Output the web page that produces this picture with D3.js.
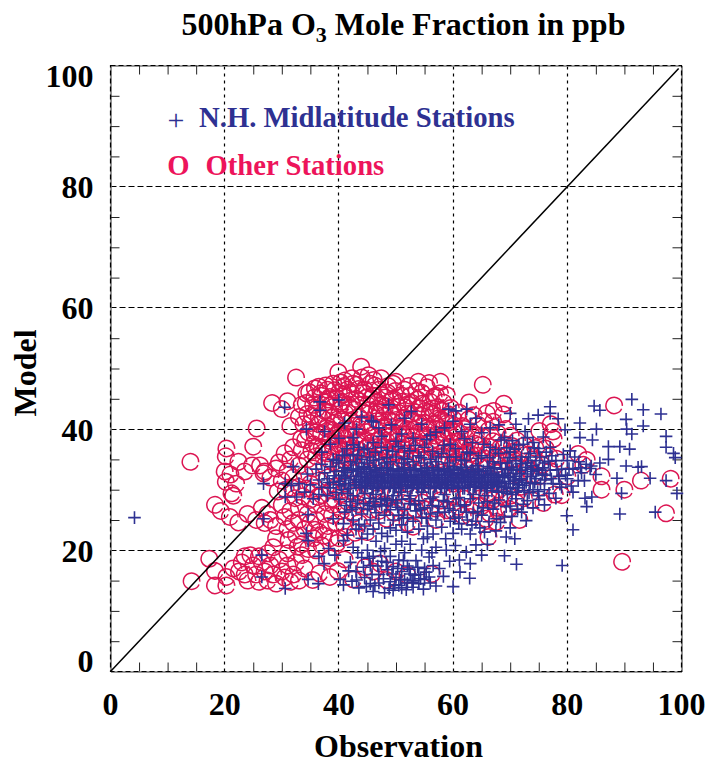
<!DOCTYPE html>
<html><head><meta charset="utf-8">
<script src="https://cdn.jsdelivr.net/npm/d3@7"></script>
<style>html,body{margin:0;background:#fff}svg{display:block}text{font-family:"Liberation Serif",serif;font-weight:bold}</style>
</head><body><div id="chart"></div>
<script>
const titleParts = ["500hPa O", "3", " Mole Fraction in ppb"];
const xLabel = "Observation", yLabel = "Model";
const legendLabels = ["N.H. Midlatitude Stations", "Other Stations"];
const majorTicks = [0,20,40,60,80,100];
const gridTicks = [20,40,60,80];
const minorTicks = [5,10,15,25,30,35,45,50,55,65,70,75,85,90,95];
const onetoone = [[0,0],[99.5,99.5]];

const otherStations = [
[14,34.6],[14.2,14.9],[17.3,18.6],[18.3,16.6],[18.3,14.2],[20.3,15.6],[20.3,14.2],[21.5,17],[22.5,16.5],[23,18],[23.5,19],[23.5,16],[24,15],[24.5,19.2],[25,17.5],[25.5,16],[26,19],[26,14.8],[26.5,18],[27,16.5],[27.5,15],[27.5,19.5],[28,17.5],[28.5,20.5],[28.5,16],[29,14.5],[29.5,18.5],[30,16.5],[30.5,15.5],[31,19.5],[31,17.5],[31.5,14.8],[32,16],[32.5,18],[33,15],[33.5,19.2],[34,17],[35.4,15.1],[38.4,15.6],[38.4,18.7],[41,18.5],[44.9,23],[44.6,17.2],[48.3,15.1],[48.3,25.2],[42.5,15.2],[46,16.5],[50,16.5],
[18.3,27.5],[19.3,26.5],[20.9,25.5],[22.4,24.6],[21.2,29.4],[20.2,31.3],[20,33],[20.3,36.8],[20.2,35.5],[22.4,34.6],[21,32.5],[25,37.1],[25.6,40.1],[24.8,34],[26.2,34],[26.8,32.7],[22,31],[23.5,33],[21.5,29],
[24,26],[25.5,25],[26.5,27],[27,24.5],[27.5,26],[28,25],[29,24],[29,22],[30,27.5],[30.5,25.5],[31,23.5],[31.5,26.5],[32,24.5],[32.5,22.5],[33,27],[33,25],[33.5,21],[34,23.5],[34.5,26],[35,24.5],[35.5,22],[36,27.5],[36,25],[36.5,23],[37,20.8],[37.5,26],[38,24],[38.5,22],[39,27.5],[39.5,24.5],[40,22],[40.5,26.5],[41,24],[41.5,28],[36,20],[42.5,26],[43.5,24.5],[45,28],[47,26.5],[50,27],[52,24.5],[53,23.9],[57,25],[55,26.8],[60,26.5],[63,25.5],[65,27.3],[66.4,26.1],[66.2,22.2],[67.6,24.7],[71.6,25],[73.8,28.3],[75.8,27.8],[77.8,29.2],[79,29.1],
[27,33],[28,32],[29,33.5],[29.5,34.5],[30,31.5],[30.5,36],[31,33],[31.5,35],[32,37],[32,32],[33,34],[33,30.5],[33.5,36.5],[34,32.5],[34.5,35],[35,31],[35.5,37.5],[35.5,33.5],[36,35.5],[36.5,31.5],[37,37],[37.5,34],[38,36],[38,32],[38.5,38],[39,34.5],[39.5,30.5],[40,36.5],[40.5,33],[41,38.5],[41,31],
[32.5,48.5],[43.9,50.3],[39.9,49.4],[35.8,46.7],[28.3,44.3],[30,43.3],[31,44.6],[34.3,45.9],[47.4,48.4],[49.5,47.5],[36.5,47],[37,45.5],[38,46.5],[38.5,44],[39,47.5],[40,46],[40.5,44.5],[41,48],[41.5,46.5],[42,43.5],[42.5,47.5],[43,45],[43.5,42],[44,48.5],[44.5,46.5],[45,44],[45,41],[45.5,47.5],[46,45.5],[46.5,42.5],[47,46.5],[47.5,44],[48,40.5],[48.5,46],[49,43],[49.5,45],[50,41.5],[50,47.8],[51,44.5],[51.5,46.5],[52,42.5],[52.5,45.5],[53.9,47.8],[54,43.5],[54.5,46],[55,41],[55.8,47.6],[56,44.5],[56.5,42.5],[57,45.5],[57.8,47.8],[57.7,45.9],[58.9,45.6],[58,43],[59,41],[60,39.5],[33,42],[31.5,40.5],[33.5,44],[34.5,42.5],[35,41],[35.5,44],[36,39.5],[36.5,42],[37.5,43],[38,40.5],[39,42],[40,39.5],[40.5,41.5],[41.5,40],[42,37.5],[43,39],[43.5,36.5],[44,40.5],[44.5,38],[45,35.5],[46,39],[46.5,37],[47,35],[47.5,38.5],[48,36.5],[49,39.5],[49.5,37],[50,34.5],[50.5,39],[51,37.5],[51.5,35.5],[52,40],[53,38],[53.5,36],[54,39.5],[54.5,37.5],[55,35],[55.5,39],[56,37],[57,40],[57.5,38],[58,35.5],[58.5,38.5],[59.5,37],[60,34.5],[61,38],[61.5,35.5],[62,40],[62.8,44.4],[63,37],[63.5,34.5],[64,39],[65,36.5],[65.2,47.3],[65.9,42.6],[66,34],[67,41.2],[67,38],[68,35.5],[68.8,42.4],[68.9,44.2],[69,37.5],[70.1,38.9],[70.5,35],[71,32.5],[72,36],[73,33.5],[74,35],[75,32.2],[75.1,39.7],[76.9,35.5],[77,33.1],[77.1,40.8],[77.5,39.6],[77.6,38.4],[78.1,35.1],[80,32.2],[81.9,35.9],[83.4,34.9],[82.8,34.1],[86,32.2],[86,30],[90,30],[92.9,31.5],[98.1,31.8],[97.3,26.1],[89.6,18.1],[88.2,43.9],[56.3,16.1],[67.6,27],[70,29],[72,30.5],[68,30],[66,29.5],[64,30],[62,28.5],[60,31],[58,29.5],[56,31.5],[54,29],[52,31],[50,29.5],[48,31.5],[46,30],[44,31.5],[43,29],[42,33.5]
];
// further readings inside the dense clouds of the same series
const otherStationsCloud = [
[34.2,44.3],[34.8,46.1],[35.3,42.2],[35.7,45.2],[36.1,43.4],[36.4,40.8],[36.8,45.9],[37.2,41.7],[37.6,44.4],[37.9,38.6],[38.2,42.8],[38.4,45.3],[38.7,39.9],[39.1,43.7],[39.3,41.1],[39.6,45.1],[39.8,37.6],[40.1,43.2],[40.3,47.7],[40.6,39],[40.8,45.7],[41.1,42.6],[41.2,36.6],[41.6,44.1],[41.8,38.8],[42.1,46.1],[42.2,41.3],[42.4,35.4],[42.7,43.2],[42.9,39.9],[43.1,47.3],[43.3,37.8],[43.6,44.6],[43.8,40.8],[44.1,34.9],[44.2,46],[44.4,42.6],[44.7,36.8],[44.9,39.5],[45.2,48.9],[45.3,43.1],[45.6,37.7],[45.7,45.1],[45.9,40.6],[46.2,35.2],[46.3,47.2],[46.6,41.3],[46.8,44.4],[46.9,38.2],[47.2,42.7],[47.3,36.3],[47.6,45.6],[47.8,40.2],[47.9,34.1],[48.2,43.8],[48.3,38.1],[48.6,47.1],[48.8,41.4],[48.9,35.5],[49.1,44.7],[49.3,39],[49.6,42.2],[49.7,36.1],[49.9,46.3],[50.2,38],[50.3,43.7],[50.6,40.4],[50.8,35.1],[50.9,45.6],[51.2,41.7],[51.3,36.8],[51.6,43.6],[51.8,39.2],[51.9,34.2],[52.2,47.1],[52.3,37.3],[52.6,41.4],[52.8,44.3],[52.9,35.4],[53.2,39.9],[53.3,42.8],[53.6,46.3],[53.7,37.4],[54.2,41],[54.3,35.3],[54.6,44.2],[54.8,38.7],[55.1,43],[55.2,36.3],[55.4,46.9],[55.7,40.4],[55.9,42.7],[56.1,38],[56.2,35.1],[56.6,45.3],[56.8,40.9],[57.1,37],[57.3,43.6],[57.6,35],[57.9,41.6],[58.1,38.7],[58.3,44.4],[58.6,36.7],[58.8,42],[59.1,39.6],[59.3,35.2],[59.6,43.5],[59.8,37.7],[60.1,41.6],[60.3,36.1],[60.6,39.6],[60.8,33.9],[61.1,42.7],[61.3,37.2],[61.6,40.5],[61.8,34.6],[62.2,38.6],[62.4,36.2],[62.7,41.6],[62.9,35],[63.2,39],[63.6,42.3],[63.8,37.6],[64.2,35.6],[64.4,40.7],[64.7,33.8],[65.1,38.8],[65.4,41.3],[65.7,35.1],[66.2,39.8],[66.6,37],[67.1,43],[67.4,35.4],[67.8,39.3],[68.3,37],[68.6,33.4],[69.2,40],[69.7,35.9],[70.3,37.2],[71.2,38.1],[71.7,34.3],[72.5,37.3],[73.3,35.8],[73.8,32.4],[74.4,36.9],[75.6,34.1],[76.2,36.8],[33.4,38.4],[33.8,40.8],[34.1,38.2],[34.7,39.4],[35.2,36.4],[35.8,38.9],[36.3,37.1],[36.9,39.3],[37.3,36.2],[37.8,40.1],[38.3,34.9],[38.9,37.2],[39.4,35.8],[39.7,39.2],[40.2,34.3],[40.7,37.6],[41.3,35.3],[41.7,37.3],[42.3,34.4],
[29.3,29.7],[30.7,30],[31.8,30.3],[32.3,28.6],[33.7,28.9],[34.3,30.2],[34.9,28.3],[35.6,29.8],[36.3,28.8],[37,29.1],[37.9,27.9],[38.6,29.9],[39.2,28.4],[40.3,29.3],[41,27.3],[42.2,29.8],[43.4,27.6],[44.6,29.3],[45.7,26.7],[46.8,28.6],[47.8,27.5],[48.9,29.1],[49.7,26.2],[51.2,27.8],[52.3,29.4],[53.4,26.8],[54.6,27.9],[55.8,29.3],[56.9,26.9],[57.7,28.2],[58.9,26.6],[59.8,28.8],[60.9,27.2],[61.7,25.7],[62.6,29.3],[63.7,27.4],[64.8,28.6],[65.7,25.2],[66.9,28.3],[67.9,26.4],[68.9,28.7],[69.8,26.8],[71,27.9],[72.4,28.6],[31.2,21.7],[32.8,20.6],[34.6,20.2],[35.8,23.4],[37.4,22.4],[38.8,25.8],[39.7,21.2],[41.2,22.2],[42.8,22.9],
[36.6,16.2],[39.8,16.6],[47.2,17.8],[52,15.9],
[37.7,47.2],[39.2,46.4],[40.9,47.1],[42.3,48.4],[43.4,46.6],[44.8,45.2],[46.1,48.1],[46.7,43.4],[47.9,42.3],[48.1,45.2],[49.4,41.2],[50.4,42.7],[51.1,40.3],[52.1,44.1],[53.1,41.3],[53.8,44.9],[54.4,42.2],[55.3,40.1],[56.3,43.4],[57.2,41.7],[58.2,40],[59.2,42.4],[60.2,40.6],[61.2,36.9],[38.1,44.9],[39.5,38.9],[40.4,43.9],[41.4,39.2],[42.6,36.2],[43.7,38.1],[45.1,37.2],[46.4,34.6],[47.7,37.1],[48.7,39.3],[50.1,36.3],[51.7,38.6],[52.7,35.1],[53.9,36.8],[55.6,37.7],[56.9,38.9],[58.4,34.7],[59.7,36.1],[60.7,37.9],[62.1,33.8],[63.1,35.9],[64.6,37.3],[66.1,36.2],[67.7,34.2],[69.3,34.7],[70.8,33.9]
];

const midStations = [
[4.2,25.4],[30.5,43.6],[36.7,44.5],[36.7,43.1],[40,44.8],[34.3,40],[37.5,39.6],[43.1,40],[45.7,41.4],[49.2,40.7],[48.7,44],[26.8,31],[30.6,31],[31.7,30.7],[26.8,25.2],[30.6,28.8],[32.6,28.8],[34.6,25.9],[34.3,22.8],[34.6,21.6],[39,25.2],[40.8,24.4],[40.8,21.6],[26.5,19.2],[26.5,15.6],[36.5,19],[34.6,15.2],[36.4,14.5],[30.6,13.7],[40.2,15.2],[40.8,14.3],[43.1,15.1],
[91.3,44.9],[93.3,43.2],[96.4,42.5],[90.3,41.6],[90.4,40],[93.3,40.5],[91.3,39.2],[97.3,38.8],[97.3,37],[98.6,36],[98.9,35.3],[90.3,33.9],[92.4,33.7],[93,33.8],[94.5,31.9],[88.7,31.9],[97.3,31.5],[99.2,29.4],[89.5,29.4],[89.2,26],[95.4,26.3],[84.7,43.8],[85.7,43.1],[85.1,40],[84.4,38.2],[82.2,41],[82.2,38.6],[87.2,37.1],[89.2,37.1],[90.9,36.7],[87.2,35],[85.7,34.4],[84.2,33.9],[81.9,31.5],[81,29.6],[84.3,28.8],[83.1,28.6],[83.4,27.2],[79.9,25.7],[81,23.4],[79.1,17.5],[71.1,17.7],[69,19.1],[65,19.2],[63,17.8],[61.1,18.4],[62.9,15.4],[61.2,16.4],[60,14],[57,14.1],[58.3,15.7],[55.8,18.9],[70.8,21.9],[69.3,22.2],[64.7,23.7],[61,24.4],[58.7,21.9],[54.8,21.9],[57,20.5],[51,21.5],[72.8,24.9],[67.6,25.2],[77,43.7],[77,42.6],[78.4,41.7],[74.9,42.3],[73.2,41.7],[70,42.6],[72.6,39.6],[79.6,39.9],[62.4,43.3],[59.2,43.3],[60,41.3],[52.7,42.9],
[42,18],[42.5,20.5],[43,16.5],[43.5,13.8],[44,18.8],[44,22],[44.5,15.5],[45,20],[45.5,14.5],[45.5,17.5],[46,19],[46,13.2],[46.5,21.5],[47,16],[47,14.6],[47.5,18.2],[48,13],[48,20.3],[48.5,16.8],[48.5,22.3],[49,14.8],[49,19],[49.5,13.4],[49.5,17.3],[50,15.5],[50,21],[50.5,14.2],[50.5,18.4],[51,16.5],[51,13.8],[51.5,15.2],[51.5,19.6],[52,14.6],[52,17.4],[52.5,16.1],[52.5,21],[53,15],[53,13.9],[53.5,18.3],[54,16],[54,14.5],[54.5,20],[55,17],[55,15.2],[55.5,22.2],[56,14.6],[56.5,17.5],[43,23.5],[41.5,22.5],[41,26.3],[42,28],[42.5,25],[43,27],[43.5,24.3],[44,26],[44.5,24],[45,22.7],[45,26.8],[45.5,25],[46,28],[46,23.5],[46.5,26.2],[47,24.5],[47.5,27.5],[47.5,22.8],[48,25.8],[48.5,28.2],[49,23.7],[49,26.7],[49.5,25],[50,27.8],[50,23.3],[50.5,25.8],[51,28.4],[51,24.2],[51.5,26.8],[52,23],[52,25.4],[52.5,27.7],[53,24.8],[53.5,26.5],[54,23.5],[54,28.2],[54.5,25.4],[55,27],[55.5,24],[56,26],[56,28.5],[56.5,22.7],[57,25],[57.5,27.2],[58,23.8],[58.5,26.3],[59,28],[59.5,24.8],[60,22.8],[60,26.6],[60.5,28.5],[61,25.5],[61.5,23.5],[62,27.5],[62.5,25],[63,28.5],[63,22.7],[63.5,26.2],[64,24.8],[64.5,27.8],[65,25.8],[65.5,23],[66,28],[66,21],[67,26.8],[67.5,23.2],[68,28.3],[69,25.5],[70,27.3],[70,23.7],[71,28.5],[72,26.3],[73,28.2],[74,27],[75,29],[76,27.5],
[32,33.8],[33,31],[34,29.6],[34.5,32.6],[35,30.8],[35.5,28.5],[36,33.4],[36.5,31.6],[36.5,29.2],[37,34.2],[37,30.4],[37.5,32.8],[38,29],[38,31.8],[38.5,33.8],[38.5,30.3],[39,35],[39,31.2],[39.5,29.5],[39.5,33],[40,31.4],[40,34.4],[40,28.4],[40.5,32.4],[40.5,30],[41,33.6],[41,35.6],[41,31],[41.5,29.4],[41.5,32.8],[42,34.6],[42,31.6],[42,30.2],[42.5,33.2],[42.5,35.8],[42.5,29],[43,32.2],[43,30.8],[43,34.4],[43.5,31.4],[43.5,33.4],[43.5,37],[44,30.3],[44,32.6],[44,35],[44.5,31.6],[44.5,33.8],[44.5,29.4],[45,32],[45,30.6],[45,34.4],[45,36.8],[45.5,31],[45.5,33],[45.5,28.6],[46,32],[46,30.2],[46,34.8],[46,37.8],[46.5,31.4],[46.5,33.2],[46.5,29.2],[47,32.4],[47,30.6],[47,35],[47.5,31.6],[47.5,33.6],[47.5,38.8],[48,32],[48,30.2],[48,34.4],[48,28.6],[48.5,31.4],[48.5,33.2],[48.5,36.5],[49,32.4],[49,30.6],[49,34.6],[49.5,31.6],[49.5,33.4],[49.5,29],[50,32],[50,30.4],[50,35.4],[50,38],[50.5,31.2],[50.5,33],[50.5,29.6],[51,32.6],[51,30.8],[51,34.4],[51.5,31.6],[51.5,33.6],[51.5,36.8],[52,32],[52,30.2],[52,35],[52.5,31.4],[52.5,33.2],[52.5,29],[53,32.4],[53,30.8],[53,34.6],[53,38.5],[53.5,31.6],[53.5,33.4],[54,32],[54,30.4],[54,35.6],[54.5,31.2],[54.5,33],[54.5,29.6],[55,32.6],[55,30.8],[55,34.4],[55,37],[55.5,31.6],[55.5,33.6],[56,32],[56,30.2],[56,35],[56.5,31.4],[56.5,33.2],[56.5,28.8],[57,32.4],[57,30.6],[57,34.6],[57,39.5],[57.5,31.6],[57.5,33.4],[58,32],[58,30.4],[58,36],[58.5,31.2],[58.5,33],[58.5,29.2],[59,32.6],[59,30.8],[59,34.4],[59.5,31.6],[59.5,37.5],[60,32],[60,30.2],[60,33.8],[60.5,31.4],[60.5,35.4],[61,32.4],[61,30.6],[61,28.7],[61.5,31.6],[61.5,33.6],[62,32],[62,30.2],[62,34.8],[62,38.4],[62.5,31.2],[62.5,33],[63,32.6],[63,30.8],[63,36],[63.5,31.6],[63.5,29.2],[64,32],[64,34],[64,30.4],[64.5,31.2],[64.5,33],[65,32.4],[65,30.6],[65,35.6],[65,39.4],[65.5,31.6],[65.5,29],[66,32],[66,33.8],[66,30.2],[66.5,31.2],[66.5,37],[67,32.6],[67,30.8],[67,34.6],[67.5,31.6],[68,32],[68,29.6],[68,36],[68.5,30.6],[68.5,33.4],[69,32.4],[69,31],[69,38.6],[69.5,34.4],[69.5,29.4],[70,32],[70,30.2],[70,36.2],[70.5,33.2],[70.5,31],[71,34.8],[71,32.2],[71,29.6],[71.5,37.4],[71.5,30.8],[72,33.2],[72,31.8],[72,35.4],[72.5,29.8],[73,32.6],[73,34.4],[73,38.6],[73.5,31],[73.5,36],[74,33],[74,30],[74.5,34.8],[74.5,31.8],[75,36.8],[75,33.2],[75,28.4],[76,34.4],[76,31.6],[76,30],[77,33.2],[77,37],[77.5,31],[78,34.8],[78,28.6],[78.5,32.2],[79,33.4],[79,30.4],[80,34.8],[80,31.8],[80.5,36.4],[81,33.4],[82,34.6],[82.5,32.8],[83,31.5],[84,33.5],[85,32.5],
[37,36.2],[38.5,37.5],[40,38.5],[41,41],[42.5,38.6],[44,42],[46,41.2],[47,40.2],[51,39.2],[51.5,41.8],[54.5,40.8],[56,39],[58.5,40.2],[60.5,43],[61.5,39.6],[63,40.8],[64,41.8],[66.5,40.2],[68,40.7],[71,40.8],[74,37.8]
];
// further readings in the solid core of the same series
const midStationsCore = [
[38.3,31.2],[39.2,32.3],[40.2,30.8],[40.8,33.1],[41.2,32.1],[41.7,30.6],[42.2,33.4],[42.7,31.2],[43.2,33],[43.7,30.4],[43.8,32.2],[44.2,31.3],[44.3,33.6],[44.7,30.7],[44.8,32.7],[45.2,31.4],[45.3,33.3],[45.7,32.4],[45.8,30.2],[46.2,31.3],[46.3,33.6],[46.7,32.2],[46.8,30.4],[47.2,33.2],[47.3,31.4],[47.7,30.3],[47.8,32.4],[48.2,31.2],[48.3,33.6],[48.7,32.6],[48.8,30.4],[49.2,31.4],[49.3,33.1],[49.7,30.2],[49.8,32.3],[50.2,33.4],[50.3,31.3],[50.7,32.3],[50.8,30.2],[51.2,31.6],[51.3,33.3],[51.7,30.5],[51.8,32.4],[52.2,31.2],[52.3,33.6],[52.7,32.2],[52.8,30.3],[53.2,31.3],[53.3,33.2],[53.7,32.4],[53.8,30.2],[54.2,31.3],[54.3,33.5],[54.7,32.3],[54.8,30.4],[55.2,31.4],[55.3,33.2],[55.7,30.3],[55.8,32.4],[56.2,31.2],[56.3,33.6],[56.7,32.3],[56.8,30.4],[57.2,31.3],[57.3,33.1],[57.7,32.5],[57.8,30.2],[58.2,31.3],[58.3,33.5],[58.7,32.4],[58.8,30.3],[59.2,31.4],[59.3,33.2],[59.7,30.6],[59.8,32.3],[60.2,31.2],[60.3,33.4],[60.7,32.6],[60.8,30.4],[61.2,31.3],[61.3,33.2],[61.7,30.2],[61.8,32.4],[62.2,31.2],[62.3,33.7],[62.7,32.2],[62.8,30.4],[63.2,31.3],[63.3,33.3],[63.7,30.5],[63.8,32.5],[64.2,31.2],[64.3,33.4],[64.7,32.3],[64.8,30.2],[65.2,31.3],[65.3,33.1],[65.7,32.5],[65.8,30.3],[66.2,31.4],[66.3,33.5],[66.7,32.3],[66.8,29.8],[67.2,31.3],[67.3,33.6],[67.7,32.4],[67.8,30.5],[68.2,31.2],[68.3,34.4],[68.7,32.2],[68.8,29.7],[69.2,33.4],[69.3,30.4],[69.7,31.4],[69.8,35.3],[70.2,33.7],[70.3,29.2],[70.7,31.6],[70.8,36.7],[71.2,33.4],[71.3,30.3],[71.7,32.7],[71.8,34.3],[72.2,30.7],[72.3,37.5],[72.7,33.7],[72.8,31.2],[73.2,35.4],[73.3,29.5],[73.7,32.2],[73.8,34],[74.2,36.9],[74.3,31.2],[74.7,33.3],[74.8,29.7],[75.2,35.4],[75.3,31],[75.7,33.6],[75.8,38.7],[76.2,32.4],[76.3,36.2],[76.7,34.7],[76.8,29.4],[77.2,31.8],[77.3,35.6],[78.2,33.3],[78.7,30.9],[79.3,35.8],[79.7,32.4],[80.3,33.5],[80.7,30.6],[81.3,35.4],[82.3,33.6],[83.3,34.2],
[39.6,34.8],[40.6,35.7],[41.4,36.8],[42.6,37.4],[43.3,35.6],[44.4,36.6],[45.4,35.4],[46.4,36.2],[47.4,37],[48.4,35.3],[49.4,36.3],[50.4,37.1],[51.4,35.2],[52.4,36.4],[53.4,37.3],[54.4,35.3],[55.4,38.3],[56.4,36.3],[57.4,35.4],[58.4,37.3],[59.4,35.4],[60.4,36.8],[61.4,34.9],[62.4,36.2],[63.4,37.8],[64.4,35.2],[65.4,37.5],[66.4,35.3],[67.4,36.6],[68.4,38.2],[69.4,36.9],[70.4,38.1],
[41.3,27.4],[42.3,26.7],[43.3,28.3],[44.3,27.7],[45.3,27.4],[46.3,27.2],[47.3,28.4],[48.3,27.3],[49.3,28.3],[50.3,27.1],[51.3,25.3],[52.3,28.5],[53.3,27.5],[54.3,26.8],[55.3,25.3],[56.3,27.4],[57.3,26.2],[58.3,28.2],[59.3,26.9],[60.3,25.3],[61.3,27.3],[62.3,26.3],[63.3,24.2],[64.3,26.4],[65.3,27],[66.3,24.7],[67.3,27.8],[68.3,24.6],[69.3,27.2],[70.3,25.6],[71.3,26.8],[72.3,27.6],
[42.3,14.9],[43.3,19.6],[44.3,17.2],[44.8,14],[45.3,18.7],[45.8,16],[46.3,14.2],[46.8,17.4],[47.3,19.8],[47.8,15.3],[48.3,18],[48.8,13.7],[49.3,16.1],[49.8,14.3],[50.3,17],[50.8,15.1],[51.3,18.3],[51.8,13.5],[52.3,16.9],[52.8,14.7],[53.3,15.9],[53.8,17.2],[54.3,15.3],[54.8,13.6],[55.3,16.4],[55.8,15.6],[56.3,19.6],[38.2,20.3],[37.4,17.8],[39.3,19.2],[41.7,16.6],[57.6,17],[59.4,18.2],[58.8,20],[60.4,20.8],[62.3,19.7],[64,20.9],
[41.1,31.9],[43.1,31.7],[44.6,31.1],[45.6,31.7],[46.6,32.8],[47.6,31],[48.6,32],[49.6,31],[50.6,31.8],[51.6,32.2],[52.6,31.7],[53.6,31],[54.6,31.7],[55.6,32.8],[56.6,31.8],[57.6,31],[58.6,31.7],[59.6,32.8],[60.6,31.9],[61.6,32.8],[62.6,31.7],[63.6,32.9],[64.6,31.8],[65.6,30.9],[66.6,32.7],[67.6,31],[69.6,32.7],[71.6,31.5],[73.6,33.4],[75.6,32.6]
];

const W=707,H=763;
const x=d3.scaleLinear().domain([0,100]).range([110.5,681.5]);
const y=d3.scaleLinear().domain([0,100]).range([671.5,65.5]);
const svg=d3.select("#chart").append("svg").attr("width",W).attr("height",H);
const blue="#2e3192", red="#ed145b", circ="#dc1552";
const crisp=v=>Math.floor(v)+0.5;

// grid
const g=svg.append("g");
g.append("g").selectAll("line").data(gridTicks).join("line").attr("x1",d=>crisp(x(d))).attr("x2",d=>crisp(x(d))).attr("y1",y(0)).attr("y2",y(100)).attr("stroke","#000").attr("stroke-width",1.2).attr("stroke-dasharray","3 4");
g.append("g").selectAll("line").data(gridTicks).join("line").attr("y1",d=>crisp(y(d))).attr("y2",d=>crisp(y(d))).attr("x1",x(0)).attr("x2",x(100)).attr("stroke","#000").attr("stroke-width",1).attr("stroke-dasharray","6 3");

// minor ticks through d3 axes
function styleAxis(s){s.select(".domain").attr("stroke","#777").attr("stroke-width",1.6);s.selectAll("line").attr("stroke","#222").attr("stroke-width",1);s.selectAll("text").remove();}
svg.append("g").attr("transform",`translate(0,${y(0)})`).call(d3.axisTop(x).tickValues(minorTicks).tickSize(9).tickSizeOuter(0)).call(styleAxis);
svg.append("g").attr("transform",`translate(0,${y(100)})`).call(d3.axisBottom(x).tickValues(minorTicks).tickSize(9).tickSizeOuter(0)).call(styleAxis);
svg.append("g").attr("transform",`translate(${x(0)},0)`).call(d3.axisRight(y).tickValues(minorTicks).tickSize(9).tickSizeOuter(0)).call(styleAxis);
svg.append("g").attr("transform",`translate(${x(100)},0)`).call(d3.axisLeft(y).tickValues(minorTicks).tickSize(9).tickSizeOuter(0)).call(styleAxis);
svg.append("rect").attr("x",x(0)).attr("y",y(100)).attr("width",x(100)-x(0)).attr("height",y(0)-y(100)).attr("fill","none").attr("stroke","#000").attr("stroke-width",1.2).attr("stroke-dasharray","5 3");

// circles with the small gap at lower right
const R=8.2;
const p=d3.path(); p.arc(0,0,R,0.42,0.05+2*Math.PI); const ring=p.toString();
svg.append("g").selectAll("path").data(otherStations.concat(otherStationsCloud)).join("path").attr("d",ring)
 .attr("transform",d=>`translate(${x(d[0])},${y(d[1])})`).attr("fill","none").attr("stroke",circ).attr("stroke-width",1.5);

// plus marks
const L=6.3;
svg.append("g").selectAll("path").data(midStations.concat(midStationsCore)).join("path").attr("d",`M${-L},0H${L}M0,${-L}V${L}`)
 .attr("transform",d=>`translate(${x(d[0])},${y(d[1])})`).attr("fill","none").attr("stroke",blue).attr("stroke-width",1.6);

// 1:1 line
svg.append("path").attr("d",d3.line().x(d=>x(d[0])).y(d=>y(d[1]))(onetoone)).attr("stroke","#000").attr("stroke-width",1.5).attr("fill","none");

function txt(t,px,py,fs,anchor,fill,rot=0){
 return svg.append("text").text(t).attr("text-anchor",anchor).attr("fill",fill).attr("font-size",fs)
  .attr("transform",`translate(${px},${py}) rotate(${rot})`);
}
// title
const tt=svg.append("text").attr("text-anchor","middle").attr("font-size",32).attr("fill","#000").attr("transform","translate(403.5,35)");
tt.append("tspan").text(titleParts[0]);
tt.append("tspan").text(titleParts[1]).attr("font-size",22).attr("dy",7);
tt.append("tspan").text(titleParts[2]).attr("dy",-7);
// ticks
majorTicks.forEach(d=>{
 txt(d,x(d),715,32,"middle","#000");
 txt(d,93.5,d==100?86.5:(d==0?672:y(d)+11.5),32,"end","#000");
});
txt(xLabel,398.5,757,32,"middle","#000");
txt(yLabel,36,373,32,"middle","#000",-90);
// legend
txt("+",176,130,30,"middle",blue).style("font-weight","normal");
txt(legendLabels[0],199,127,28.7,"start",blue);
txt("O",178.5,175,28.7,"middle",red);
txt(legendLabels[1],205.5,175,28.7,"start",red);
</script></body></html>
